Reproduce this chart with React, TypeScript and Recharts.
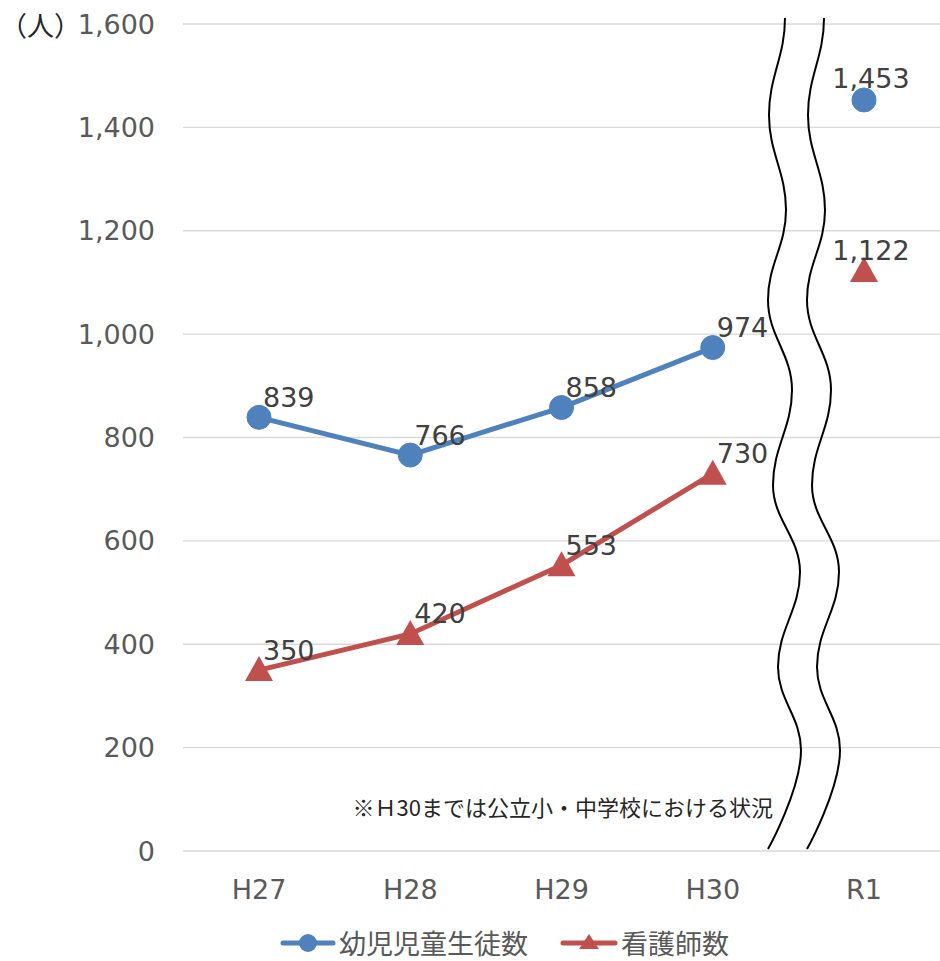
import {
  LineChart, Line, XAxis, YAxis, CartesianGrid, Legend, LabelList, Customized,
} from 'recharts'

// 年度
const categories = ['H27', 'H28', 'H29', 'H30', 'R1']
// 幼児児童生徒数
const pupilCounts = [839, 766, 858, 974, 1453]
// 看護師数
const nurseCounts = [350, 420, 553, 730, 1122]
const yTicks = [0, 200, 400, 600, 800, 1000, 1200, 1400, 1600]
// H30までは線で結ぶ。R1は調査対象が違うので切り離す
const lastJoined = 3

const BLUE = '#4F81BD'
const RED = '#C0504D'
const NUM_FONT = '"DejaVu Sans", Verdana, sans-serif'
const JP_FONT = '"Noto Sans CJK JP", "Noto Sans", sans-serif'

const data = categories.map((name, i) => ({
  name,
  pupils: i <= lastJoined ? pupilCounts[i] : null,
  pupilsLater: i > lastJoined ? pupilCounts[i] : null,
  nurses: i <= lastJoined ? nurseCounts[i] : null,
  nursesLater: i > lastJoined ? nurseCounts[i] : null,
}))

// 波線（省略記号）の頂点。左の線、右の線は +39px
const wave = [
  [785, 18], [769, 115], [786, 210], [768, 300], [792, 390],
  [773, 485], [800, 572], [778, 667], [801, 750], [768, 849],
]

const wavePath = (dx: number) => {
  let d = `M${wave[0][0] + dx},${wave[0][1]}`
  for (let i = 1; i < wave.length; i++) {
    const [x0, y0] = wave[i - 1]
    const [x1, y1] = wave[i]
    const k = (y1 - y0) * 0.4
    const last = i === wave.length - 1
    d += ` C${x0 + dx},${y0 + k} ${x1 + dx},${last ? y1 : y1 - k} ${x1 + dx},${y1}`
  }
  return d
}

const fmt = (v: number) => v.toLocaleString('en-US')

const Triangle = ({ cx, cy }: any) => {
  if (typeof cx !== 'number' || typeof cy !== 'number') return null
  return <path d={`M${cx},${cy - 14} L${cx + 14},${cy + 11} L${cx - 14},${cy + 11} Z`} fill={RED} />
}

const SideLabel = (props: any) => {
  const { x, y, value } = props
  if (value == null || typeof y !== 'number') return null
  return (
    <text x={x + 4} y={y - 20} dominantBaseline="central" fill="#404040"
      fontSize={27} fontFamily={NUM_FONT}>
      {fmt(value)}
    </text>
  )
}

const TopLabel = (props: any) => {
  const { x, y, value } = props
  if (value == null || typeof y !== 'number') return null
  return (
    <text x={x + 7} y={y - 21} textAnchor="middle" dominantBaseline="central" fill="#404040"
      fontSize={27} fontFamily={NUM_FONT}>
      {fmt(value)}
    </text>
  )
}

const Extras = () => (
  <g>
    <text x={0} y={24} dominantBaseline="central" fill="#262626"
      fontSize={27} fontFamily={JP_FONT}>（人）</text>
    <text x={773} y={806} textAnchor="end" dominantBaseline="central" fill="#262626"
      fontSize={22} fontFamily={JP_FONT}>※Ｈ30までは公立小・中学校における状況</text>
    <path d={wavePath(0)} fill="none" stroke="#000" strokeWidth={2} />
    <path d={wavePath(39)} fill="none" stroke="#000" strokeWidth={2} />
  </g>
)

const LegendContent = () => (
  <div style={{
    display: 'flex', alignItems: 'center', height: 50, boxSizing: 'border-box',
    paddingTop: 14, paddingLeft: 280, fontFamily: JP_FONT, fontSize: 27, lineHeight: '32px',
    color: '#595959',
  }}>
    <svg width={56} height={28}>
      <line x1={3} x2={53} y1={14} y2={14} stroke={BLUE} strokeWidth={5} strokeLinecap="round" />
      <circle cx={28} cy={14} r={9} fill={BLUE} />
    </svg>
    <span style={{ marginLeft: 3 }}>幼児児童生徒数</span>
    <svg width={58} height={28} style={{ marginLeft: 32 }}>
      <line x1={3} x2={55} y1={14} y2={14} stroke={RED} strokeWidth={5} strokeLinecap="round" />
      <path d="M29,5 L39,20 L19,20 Z" fill={RED} />
    </svg>
    <span style={{ marginLeft: 3 }}>看護師数</span>
  </div>
)

export default function App() {
  return (
    <div style={{ position: 'absolute', left: 0, top: 0, width: 940, height: 961, background: '#fff' }}>
      <LineChart width={940} height={961} data={data}
        margin={{ top: 24, right: 0, left: 0, bottom: 0 }}>
        <CartesianGrid vertical={false} stroke="#D9D9D9" strokeWidth={1.3} />
        <XAxis dataKey="name" height={60} tickLine={false} axisLine={false}
          padding={{ left: 76, right: 76 }} tickSize={0} tickMargin={29}
          tick={{ fill: '#595959', fontSize: 27, fontFamily: NUM_FONT }} />
        <YAxis width={183} domain={[0, 1600]} ticks={yTicks} interval={0}
          tickLine={false} axisLine={false} tickSize={0} tickMargin={28}
          tickFormatter={fmt}
          tick={{ fill: '#595959', fontSize: 27, fontFamily: NUM_FONT }} />
        <Legend verticalAlign="bottom" align="left" height={50}
          wrapperStyle={{ left: 0, width: 940 }} content={<LegendContent />} />
        <Customized component={Extras} />

        <Line dataKey="nurses" name="看護師数" stroke={RED} strokeWidth={5}
          dot={<Triangle />} activeDot={false} isAnimationActive={false}>
          <LabelList dataKey="nurses" content={<SideLabel />} />
        </Line>
        <Line dataKey="nursesLater" stroke="none" legendType="none"
          dot={<Triangle />} activeDot={false} isAnimationActive={false}>
          <LabelList dataKey="nursesLater" content={<TopLabel />} />
        </Line>
        <Line dataKey="pupils" name="幼児児童生徒数" stroke={BLUE} strokeWidth={5}
          dot={{ r: 12, fill: BLUE, stroke: BLUE, strokeWidth: 1 }} activeDot={false}
          isAnimationActive={false}>
          <LabelList dataKey="pupils" content={<SideLabel />} />
        </Line>
        <Line dataKey="pupilsLater" stroke="none" legendType="none"
          dot={{ r: 12, fill: BLUE, stroke: BLUE, strokeWidth: 1 }} activeDot={false}
          isAnimationActive={false}>
          <LabelList dataKey="pupilsLater" content={<TopLabel />} />
        </Line>
      </LineChart>
    </div>
  )
}
